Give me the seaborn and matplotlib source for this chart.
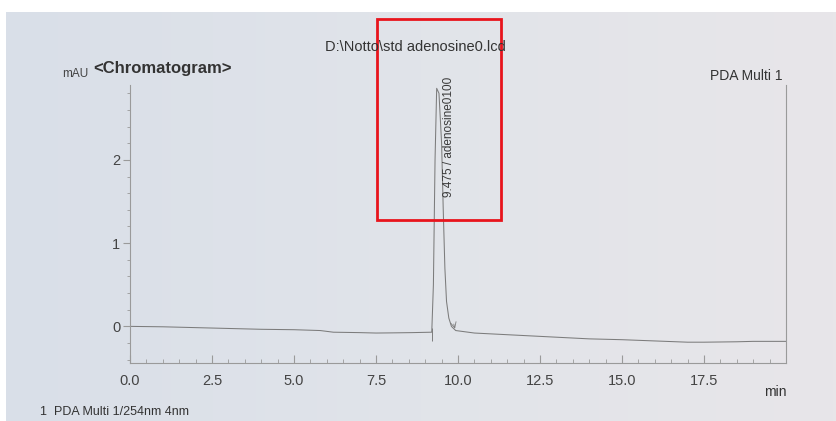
import numpy as np
import pandas as pd
import matplotlib
matplotlib.use("Agg")
import matplotlib.pyplot as plt
import seaborn as sns
from matplotlib.patches import Rectangle
from matplotlib.colors import LinearSegmentedColormap

# ---- data ----
time_min = [0.0, 1.0, 2.0, 2.5, 3.0, 4.0, 5.0, 5.8, 6.2, 7.0, 7.5, 8.0, 8.6, 9.2,
            9.25, 9.3, 9.35, 9.42, 9.5, 9.55, 9.6, 9.65, 9.72, 9.8, 9.93,
            10.5, 11.0, 12.0, 12.5, 13.0, 14.0, 15.0, 16.0, 17.0, 17.5, 18.5, 19.0, 20.0]
signal_mau = [0.0, -0.005, -0.015, -0.02, -0.025, -0.035, -0.04, -0.05, -0.07, -0.075, -0.08, -0.078, -0.075, -0.07,
              0.5, 2.0, 2.86, 2.80, 2.2, 1.4, 0.7, 0.3, 0.1, 0.0, -0.05,
              -0.08, -0.09, -0.11, -0.12, -0.13, -0.15, -0.16, -0.175, -0.19, -0.19, -0.185, -0.18, -0.18]
peak_start = 9.2
peak_end = 9.93
peak_label = "9.475 / adenosine0100"
x_ticks = [0.0, 2.5, 5.0, 7.5, 10.0, 12.5, 15.0, 17.5]
x_tick_labels = ["0.0", "2.5", "5.0", "7.5", "10.0", "12.5", "15.0", "17.5"]
y_ticks = [0, 1, 2]

df = pd.DataFrame({"time": time_min, "mAU": signal_mau})

plt.rcParams["font.family"] = ["Liberation Sans", "DejaVu Sans"]
W, H = 836, 421
fig = plt.figure(figsize=(W / 100, H / 100), dpi=100, facecolor="white")

# photo-paper background
bg = fig.add_axes([6 / W, 0, 1 - 6 / W, 1 - 12 / H])
cmap = LinearSegmentedColormap.from_list("paper", ["#d9dfe8", "#e1e4ea", "#e8e6e9"])
bg.imshow(np.linspace(0, 1, 256)[None, :], aspect="auto", cmap=cmap, extent=[0, 1, 0, 1])
bg.set_axis_off()

left, right, top, bottom = 130, 786, 85, 363
ax = fig.add_axes([left / W, 1 - bottom / H, (right - left) / W, (bottom - top) / H])
ax.set_facecolor("none")

line_c = "#7c7c7c"
sns.lineplot(data=df, x="time", y="mAU", ax=ax, color=line_c, linewidth=0.75, estimator=None, sort=False)

ax.set_xlim(0, 20)
ax.set_ylim(-0.44, 2.9)
ax.set_xlabel("")
ax.set_ylabel("")

spine_c = "#9a9a9a"
for s in ["left", "bottom", "right"]:
    ax.spines[s].set_color(spine_c)
    ax.spines[s].set_linewidth(0.8)
ax.spines["top"].set_visible(False)

ax.set_xticks(x_ticks)
ax.set_xticklabels(x_tick_labels)
ax.set_xticks(np.arange(0, 20.01, 0.5), minor=True)
ax.set_yticks(y_ticks)
ax.set_yticks(np.arange(-0.4, 2.81, 0.2), minor=True)
ax.tick_params(axis="x", which="major", direction="in", length=6, color=spine_c, labelsize=10.5,
               labelcolor="#444444", pad=8)
ax.tick_params(axis="x", which="minor", direction="in", length=3, color=spine_c)
ax.tick_params(axis="y", which="major", direction="out", length=5, color=spine_c, labelsize=10.5,
               labelcolor="#444444", pad=2)
ax.tick_params(axis="y", which="minor", direction="out", length=2.5, color=spine_c)

# peak start / end markers
ax.vlines(peak_start, -0.17, -0.02, color=line_c, linewidth=0.7)
ax.annotate("", xy=(peak_end, -0.06), xytext=(peak_end - 0.08, 0.06),
            arrowprops=dict(arrowstyle="->", color=line_c, lw=0.6))
ax.text(9.72, 3.0, peak_label, rotation=90, ha="center", va="top", fontsize=8.5,
        color="#3a3a3a", clip_on=False)

# texts
fig.text(415 / W, 1 - 47 / H, r"D:\Notto\std adenosine0.lcd", ha="center", va="center", fontsize=10.5, color="#333333")
fig.text(62 / W, 1 - 74 / H, "mAU", ha="left", va="center", fontsize=8.5, color="#444444")
fig.text(93 / W, 1 - 69 / H, "<Chromatogram>", ha="left", va="center", fontsize=12, fontweight="bold", color="#333333")
fig.text(783 / W, 1 - 76 / H, "PDA Multi 1", ha="right", va="center", fontsize=10, color="#333333")
fig.text(775 / W, 1 - 392 / H, "min", ha="center", va="center", fontsize=10, color="#333333")
fig.text(40 / W, 1 - 412 / H, "1  PDA Multi 1/254nm 4nm", ha="left", va="center", fontsize=9, color="#333333")

# red highlight box
fig.patches.append(Rectangle((377 / W, 1 - 220 / H), (501 - 377) / W, (220 - 19) / H,
                             transform=fig.transFigure, fill=False, edgecolor="#e8141c", linewidth=2))

fig.savefig("out.png", dpi=100, facecolor=fig.get_facecolor())
